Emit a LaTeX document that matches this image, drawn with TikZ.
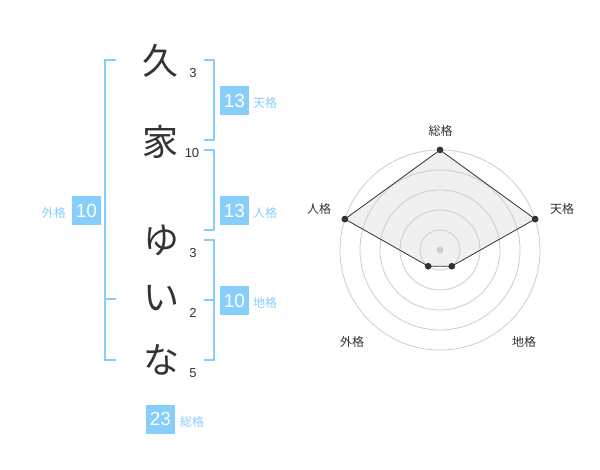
\documentclass[tikz,border=0pt]{standalone}
\usepackage{fontspec}
\setmainfont{Liberation Sans}
\newfontfamily\jp{Noto Sans CJK JP}
\definecolor{sky}{HTML}{87CEFA}
\definecolor{ink}{HTML}{333333}
\definecolor{ring}{HTML}{CCCCCC}
\definecolor{area}{HTML}{F0F0F0}
\tikzset{
  charnode/.style={inner sep=0pt, text=ink, font=\jp\fontsize{36}{36}\selectfont},
  strokenum/.style={inner sep=0pt, text=ink, font=\fontsize{13}{13}\selectfont},
  brk/.style={draw=sky, line width=2pt},
  valbox/.style={fill=sky, text=white, minimum size=29pt, inner sep=0pt, font=\fontsize{19}{19}\selectfont},
  vallabel/.style={inner sep=0pt, text=sky, font=\jp\fontsize{12}{12}\selectfont},
  ringline/.style={draw=ring, line width=0.8pt},
  radardot/.style={circle, fill=ink, inner sep=0pt, minimum size=6.5pt},
  radarlabel/.style={inner sep=0pt, text=ink, font=\jp\fontsize{12}{12}\selectfont},
}
\begin{document}
\begin{tikzpicture}[x=1pt,y=-1pt]
\useasboundingbox (0,0) rectangle (600,470);
% name characters
\node[charnode] (c1) at (160,61) {久};
\node[charnode] (c2) at (160,142) {家};
\node[charnode] (c3) at (161,240) {ゆ};
\node[charnode] (c4) at (161,298) {い};
\node[charnode] (c5) at (161,360) {な};
% stroke counts
\node[strokenum] (s1) at (193,73) {3};
\node[strokenum] (s2) at (192,153) {10};
\node[strokenum] (s3) at (193,253) {3};
\node[strokenum] (s4) at (193,313) {2};
\node[strokenum] (s5) at (193,373) {5};
% brackets
\draw[brk] (116,60) -- (105,60) -- (105,360) -- (116,360);
\draw[brk] (105,299) -- (116,299);
\draw[brk] (204,60) -- (214,60) -- (214,140) -- (204,140);
\draw[brk] (204,150) -- (214,150) -- (214,230) -- (204,230);
\draw[brk] (204,240) -- (214,240) -- (214,360) -- (204,360);
\draw[brk] (204,300) -- (214,300);
% value boxes
\node[valbox] (tb) at (234.5,100.5) {13};
\node[vallabel, anchor=west] (tl) at (253,103) {天格};
\node[valbox] (rb) at (234.5,210.5) {13};
\node[vallabel, anchor=west] (rl) at (253,213) {人格};
\node[valbox] (db) at (234.5,300.5) {10};
\node[vallabel, anchor=west] (dl) at (253,303) {地格};
\node[valbox] (wb) at (86.5,210.5) {10};
\node[vallabel, anchor=east] (wl) at (66,213) {外格};
\node[valbox] (zb) at (160.5,419) {23};
\node[vallabel, anchor=west] (zl) at (180,422) {総格};
% radar chart
\coordinate (O) at (440,250);
\begin{scope}[shift={(O)}]
  \node[radardot] (p1) at (-90:100) {};
  \node[radardot] (p2) at (-18:100) {};
  \node[radardot] (p3) at (54:20) {};
  \node[radardot] (p4) at (126:20) {};
  \node[radardot] (p5) at (198:100) {};
  \fill[area] (p1.center) -- (p2.center) -- (p3.center) -- (p4.center) -- (p5.center) -- cycle;
  \foreach \r in {20,40,60,80,100} \draw[ringline] (0,0) circle (\r);
  \fill[ring] (0,0) circle (3.5);
  \draw[ink, line width=0.8pt] (p1.center) -- (p2.center) -- (p3.center) -- (p4.center) -- (p5.center) -- cycle;
  \node[radardot] at (p1) {};
  \node[radardot] at (p2) {};
  \node[radardot] at (p3) {};
  \node[radardot] at (p4) {};
  \node[radardot] at (p5) {};
\end{scope}
\node[radarlabel] (l1) at (440.5,130.5) {総格};
\node[radarlabel] (l2) at (562,208.5) {天格};
\node[radarlabel] (l3) at (319,208.5) {人格};
\node[radarlabel] (l4) at (524,342) {地格};
\node[radarlabel] (l5) at (352,342) {外格};
\end{tikzpicture}
\end{document}
